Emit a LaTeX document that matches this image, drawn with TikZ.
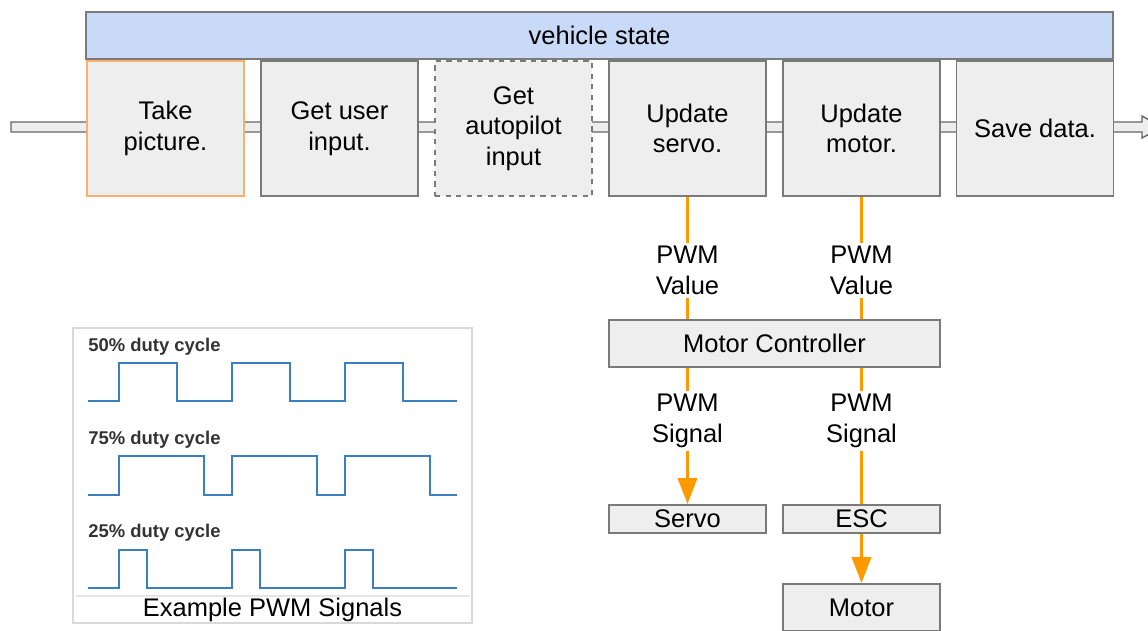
\documentclass[tikz,border=0pt]{standalone}
\usepackage{fontspec}
\setmainfont{Liberation Sans}
\usetikzlibrary{arrows.meta}

\definecolor{boxfill}{HTML}{EEEEEE}
\definecolor{boxedge}{HTML}{7A7A7A}
\definecolor{statefill}{HTML}{C9DAF8}
\definecolor{camedge}{HTML}{F6B26B}
\definecolor{pwmorange}{HTML}{FF9900}
\definecolor{wavecol}{HTML}{3A80C0}
\definecolor{labelgray}{HTML}{333333}

\begin{document}
\begin{tikzpicture}[x=0.02cm,y=-0.02cm,
	font=\fontsize{14.5}{17.5}\selectfont,
	stepbox/.style={draw=boxedge, line width=1pt, fill=boxfill, align=center,
		minimum width=3.14cm, minimum height=2.7cm, inner sep=0pt},
	flatbox/.style={draw=boxedge, line width=1pt, fill=boxfill, align=center,
		minimum width=3.14cm, inner sep=0pt},
	sig/.style={draw=pwmorange, line width=2pt},
	sigtip/.style={sig, -{Triangle[width=0.38cm,length=0.52cm]}},
	siglabel/.style={fill=white, align=center, inner sep=2pt, yshift=-0.05cm},
	wave/.style={draw=wavecol, line width=1.5pt},
	duty/.style={anchor=west, inner sep=0pt, text=labelgray,
		font=\fontsize{10.5}{12}\bfseries},
	]
	
	\useasboundingbox (0,0) rectangle (1148,630);
	\clip (0,0) rectangle (1148,630);
	
	% main loop runs left to right behind the steps
	\draw[draw=black!60, fill=boxfill, line width=0.8pt]
		(11,122) -- (1142,122) -- (1142,116) -- (1162,127) -- (1142,138)
		-- (1142,132) -- (11,132) -- cycle;
	
	\node[draw=boxedge, line width=1pt, fill=statefill, minimum width=20.54cm,
		minimum height=0.94cm, inner sep=0pt] (state) at (599.5,35.5) {vehicle state};
	
	\node[stepbox, draw=camedge] (cam) at (165.5,128.5) {Take\\picture.};
	\node[stepbox] (user) at (339.5,128.5) {Get user\\input.};
	\node[stepbox, dashed] (pilot) at (513.5,128.5) {Get\\autopilot\\input};
	\node[stepbox] (servoup) at (687.5,128.5) {Update\\servo.};
	\node[stepbox] (motorup) at (861.5,128.5) {Update\\motor.};
	\node[stepbox] (save) at (1035,128.5) {Save data.};
	
	% hardware chain
	\node[flatbox, minimum width=6.62cm, minimum height=0.94cm] (ctrl) at (774.5,343.5) {Motor Controller};
	\node[flatbox, minimum height=0.56cm] (servo) at (687.5,519) {Servo};
	\node[flatbox, minimum height=0.56cm] (esc) at (861.5,519) {ESC};
	\node[flatbox, minimum height=0.94cm] (motor) at (861.5,607.5) {Motor};
	
	\draw[sig] (servoup.south) -- node[siglabel, pos=0.58] {PWM\\Value} (servoup.south |- ctrl.north);
	\draw[sig] (motorup.south) -- node[siglabel, pos=0.58] {PWM\\Value} (motorup.south |- ctrl.north);
	\draw[sigtip] (ctrl.south -| servo.north) -- node[siglabel, pos=0.37] {PWM\\Signal} (servo.north);
	\draw[sig] (ctrl.south -| esc.north) -- node[siglabel, pos=0.37] {PWM\\Signal} (esc.north);
	\draw[sigtip] (esc.south) -- (motor.north);
	
	% duty cycle examples
	\draw[draw=black!15, line width=0.8pt] (73,328) rectangle (472,623);
	\draw[draw=black!10, line width=0.6pt] (76,596) -- (470,596);
	\node[duty] (d50) at (88,347) {50\% duty cycle};
	\node[duty] (d75) at (88,440) {75\% duty cycle};
	\node[duty] (d25) at (88,533) {25\% duty cycle};
	\foreach \lo/\hi/\dw in {401/363/58, 495/456/85, 588/550/28}{
		\draw[wave] (88,\lo) foreach \t in {119,232,345}{
			-- (\t,\lo) -- (\t,\hi) -- ++(\dw,0) -- ++(0,\lo-\hi)} -- (457,\lo);
	}
	\node (pwmcap) at (272.5,610) {Example PWM Signals};
	
\end{tikzpicture}
\end{document}
